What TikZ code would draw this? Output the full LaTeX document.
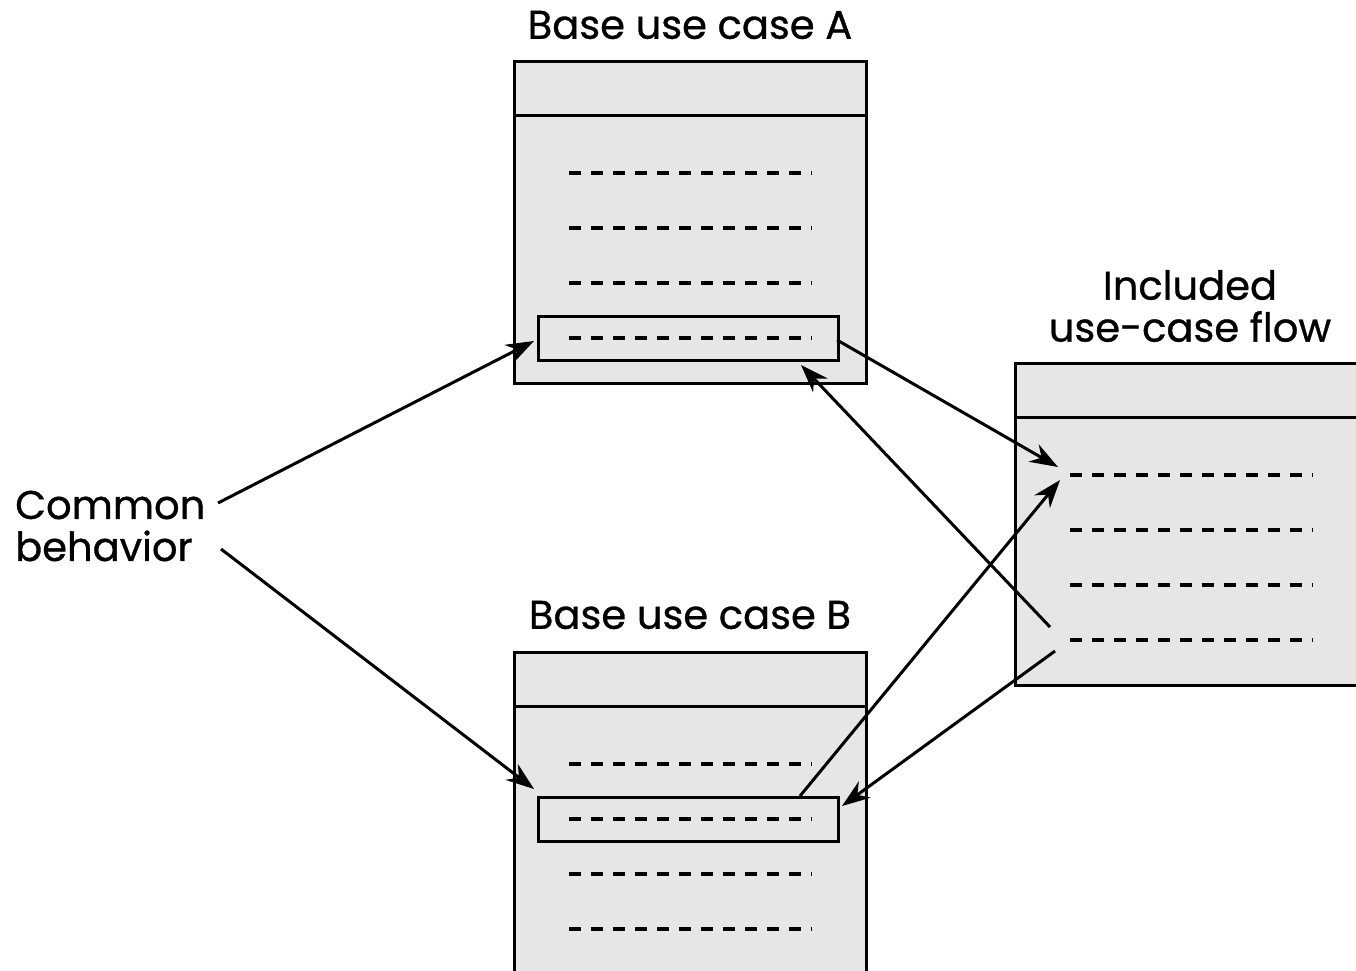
\documentclass[tikz,border=0pt]{standalone}
\usepackage{fontspec}
\setmainfont{Poppins}[FakeBold=0.8]
\usetikzlibrary{arrows.meta}
\definecolor{boxfill}{HTML}{E6E6E6}
\tikzset{
  box/.style={draw, line width=3pt, fill=boxfill, inner sep=0pt, minimum width=352pt, minimum height=#1, anchor=north west},
  innerbox/.style={draw, line width=3pt, fill=boxfill, inner sep=0pt, minimum width=300pt, minimum height=44pt, anchor=north west},
  dline/.style={line width=3.2pt, dash pattern=on 12pt off 10pt},
  lbl/.style={font=\fontsize{40}{42}\selectfont, inner sep=0pt, align=center},
  arr/.style={line width=3pt, -{Stealth[length=28pt, width=20pt]}},
}
\begin{document}
\begin{tikzpicture}[x=1pt,y=-1pt]
\useasboundingbox (0,0) rectangle (1356,970);
\clip (0,0) rectangle (1356,970);
% Box A
\node[box=322pt] (A) at (513,60) {};
\draw[line width=3pt] (513,115) -- (865,115);
\foreach \y in {173,228,283} \draw[dline] (569,\y) -- (812,\y);
\node[innerbox] (ia) at (537,315) {};
\draw[dline] (569,338) -- (812,338);
% Box B
\node[box=340pt] (B) at (513,651) {};
\draw[line width=3pt] (513,706) -- (865,706);
\foreach \y in {764,874,929} \draw[dline] (569,\y) -- (812,\y);
\node[innerbox] (ib) at (537,796) {};
\draw[dline] (569,819) -- (812,819);
% Box C
\node[box=322pt] (C) at (1014,362) {};
\draw[line width=3pt] (1014,417) -- (1366,417);
\foreach \y in {475,530,585,640} \draw[dline] (1070,\y) -- (1313,\y);
% labels
\node[lbl] (la) at (690,25) {Base use case A};
\node[lbl] (lb) at (690,615) {Base use case B};
\node[lbl] (lc) at (1190,306) {Included\\use-case flow};
\node[lbl, align=left, anchor=west] (cb) at (15,526) {Common\\behavior};
% connector ends
\coordinate (cb1) at (218,503);
\coordinate (cb2) at (221,549);
\coordinate (ia_in) at (534,341);
\coordinate (ib_in) at (534,789);
\coordinate (ia_out) at (837,340);
\coordinate (c_in1) at (1058,467);
\coordinate (ib_out) at (800,796);
\coordinate (c_in2) at (1060,480);
\coordinate (c_out1) at (1050,627);
\coordinate (ia_back) at (801,365);
\coordinate (c_out2) at (1055,651);
\coordinate (ib_back) at (842,806);
% connectors
\draw[arr] (cb1) -- (ia_in);
\draw[arr] (cb2) -- (ib_in);
\draw[arr] (ia_out) -- (c_in1);
\draw[arr] (ib_out) -- (c_in2);
\draw[arr] (c_out1) -- (ia_back);
\draw[arr] (c_out2) -- (ib_back);
\end{tikzpicture}
\end{document}
